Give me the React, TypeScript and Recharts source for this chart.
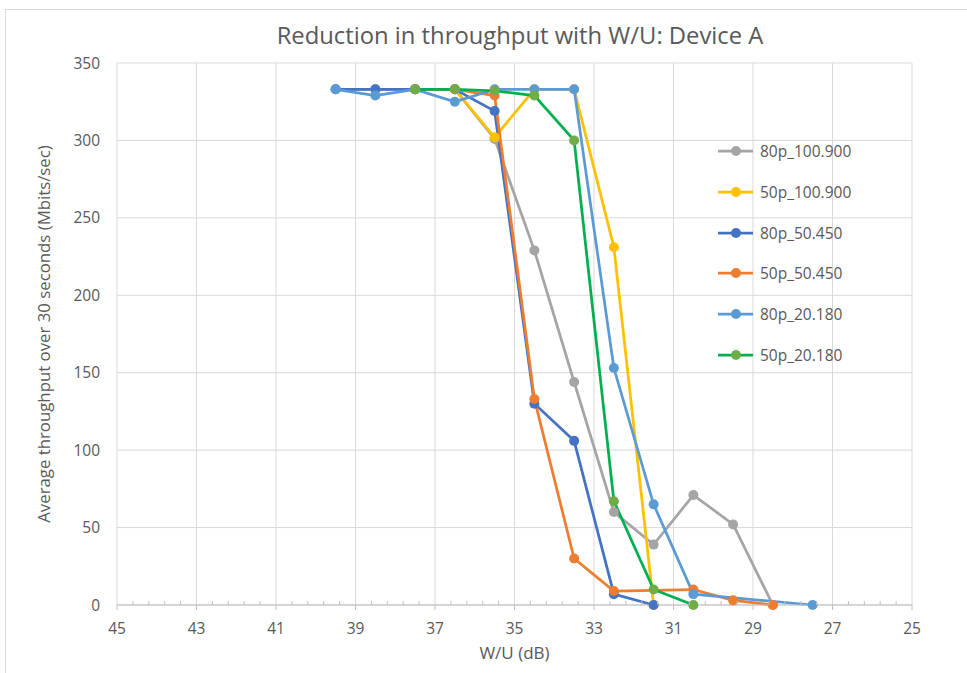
import React from 'react';
import { LineChart, Line, XAxis, YAxis, CartesianGrid, Legend } from 'recharts';

const seriesNames = ['80p_100.900', '50p_100.900', '80p_50.450', '50p_50.450', '80p_20.180', '50p_20.180'];
const lineColors = ['#a5a5a5', '#ffc000', '#4472c4', '#ed7d31', '#5b9bd5', '#00b050'];
const markerColors = ['#a5a5a5', '#ffc000', '#4472c4', '#ed7d31', '#5b9bd5', '#70ad47'];

const wu80p100 = [39.5, 38.5, 37.5, 36.5, 35.5, 34.5, 33.5, 32.5, 31.5, 30.5, 29.5, 28.5];
const tp80p100 = [333, 333, 333, 333, 301, 229, 144, 60, 39, 71, 52, 0];

const wu50p100 = [37.5, 36.5, 35.5, 34.5, 33.5, 32.5, 31.5];
const tp50p100 = [333, 333, 302, 333, 333, 231, 0];

const wu80p50 = [39.5, 38.5, 37.5, 36.5, 35.5, 34.5, 33.5, 32.5, 31.5];
const tp80p50 = [333, 333, 333, 333, 319, 130, 106, 7, 0];

const wu50p50 = [37.5, 36.5, 35.5, 34.5, 33.5, 32.5, 30.5, 29.5, 28.5];
const tp50p50 = [333, 333, 329, 133, 30, 9, 10, 3, 0];

const wu80p20 = [39.5, 38.5, 37.5, 36.5, 35.5, 34.5, 33.5, 32.5, 31.5, 30.5, 27.5];
const tp80p20 = [333, 329, 333, 325, 333, 333, 333, 153, 65, 7, 0];

const wu50p20 = [37.5, 36.5, 35.5, 34.5, 33.5, 32.5, 31.5, 30.5];
const tp50p20 = [333, 333, 332, 329, 300, 67, 10, 0];

const majorXTicks = [45, 43, 41, 39, 37, 35, 33, 31, 29, 27, 25];
const yTicks = [0, 50, 100, 150, 200, 250, 300, 350];
const minorXTicks = Array.from({ length: 51 }, (_, i) => Math.round((25 + i * 0.4) * 10) / 10);

const toData = (xs: number[], ys: number[]) => xs.map((x, i) => ({ wu: x, tp: ys[i] }));

const seriesData = [
  toData(wu80p100, tp80p100),
  toData(wu50p100, tp50p100),
  toData(wu80p50, tp80p50),
  toData(wu50p50, tp50p50),
  toData(wu80p20, tp80p20),
  toData(wu50p20, tp50p20),
];

const FONT = '"Open Sans", "Noto Sans", sans-serif';
const TEXT = '#595959';

const XTick = (props: any) => {
  const { x, y, payload } = props;
  const v = payload.value;
  const isMajor = majorXTicks.some((m) => Math.abs(m - v) < 1e-6);
  if (isMajor) {
    return (
      <g>
        <line x1={x} x2={x} y1={y} y2={y + 5} stroke="#bfbfbf" strokeWidth={1} />
        <text x={x} y={y + 29} textAnchor="middle" fill={TEXT} fontSize={15.5} fontFamily={FONT}>
          {v}
        </text>
      </g>
    );
  }
  return <line x1={x} x2={x} y1={y - 4} y2={y} stroke="#bfbfbf" strokeWidth={1} />;
};

const renderLegend = () => (
  <div>
    {seriesNames.map((name, idx) => (
      <div key={name} style={{ display: 'flex', alignItems: 'center', height: 40.7 }}>
        <svg width={36} height={12}>
          <line x1={0} x2={35} y1={6} y2={6} stroke={lineColors[idx]} strokeWidth={2.75} />
          <circle cx={18} cy={6} r={5} fill={markerColors[idx]} />
        </svg>
        <span style={{ marginLeft: 6, fontSize: 15.5, color: TEXT, fontFamily: FONT }}>{name}</span>
      </div>
    ))}
  </div>
);

export default function App() {
  return (
    <div style={{ position: 'absolute', left: 0, top: 0, width: 967, height: 673, background: '#fff', overflow: 'hidden' }}>
      <div style={{ position: 'absolute', left: 5, top: 9, width: 1000, height: 700, border: '1px solid #d9d9d9' }} />
      <div
        style={{
          position: 'absolute',
          left: 0,
          width: 1040,
          top: 18,
          textAlign: 'center',
          fontFamily: FONT,
          fontSize: 23.8,
          color: TEXT,
          lineHeight: '34px',
        }}
      >
        Reduction in throughput with W/U: Device A
      </div>
      <div style={{ position: 'absolute', left: 0, top: 0 }}>
        <LineChart width={967} height={673} margin={{ top: 63, right: 55, bottom: 8, left: 0 }}>
          <CartesianGrid xAxisId="grid" stroke="#d9d9d9" strokeWidth={1} />
          <XAxis
            xAxisId="grid"
            dataKey="wu"
            type="number"
            domain={[25, 45]}
            reversed
            ticks={majorXTicks}
            hide
            allowDataOverflow
          />
          <XAxis
            dataKey="wu"
            type="number"
            domain={[25, 45]}
            reversed
            ticks={minorXTicks}
            interval={0}
            height={60}
            tickSize={0}
            tickMargin={0}
            tickLine={false}
            axisLine={{ stroke: '#bfbfbf', strokeWidth: 1 }}
            tick={<XTick />}
            allowDataOverflow
            label={{ value: 'W/U (dB)', position: 'insideBottom', offset: 6, fill: TEXT, fontSize: 17, fontFamily: FONT }}
          />
          <YAxis
            type="number"
            domain={[0, 350]}
            ticks={yTicks}
            width={117}
            axisLine={false}
            tickLine={false}
            tickSize={0}
            tickMargin={17}
            tick={{ fill: TEXT, fontSize: 15.5, fontFamily: FONT }}
            label={{
              value: 'Average throughput over 30 seconds (Mbits/sec)',
              angle: -90,
              position: 'insideLeft',
              offset: 44,
              fill: TEXT,
              fontSize: 16.8,
              fontFamily: FONT,
              style: { textAnchor: 'middle' },
            }}
          />
          <Legend
            layout="vertical"
            align="center"
            verticalAlign="middle"
            content={renderLegend}
            wrapperStyle={{ position: 'absolute', left: 718, top: 131, width: 170, right: 'auto', bottom: 'auto' }}
          />
          {seriesNames.map((name, i) => (
            <Line
              key={name}
              name={name}
              data={seriesData[i]}
              dataKey="tp"
              type="linear"
              stroke={lineColors[i]}
              strokeWidth={2.75}
              dot={{ r: 5, fill: markerColors[i], stroke: markerColors[i], strokeWidth: 0 }}
              activeDot={false}
              isAnimationActive={false}
            />
          ))}
        </LineChart>
      </div>
    </div>
  );
}
